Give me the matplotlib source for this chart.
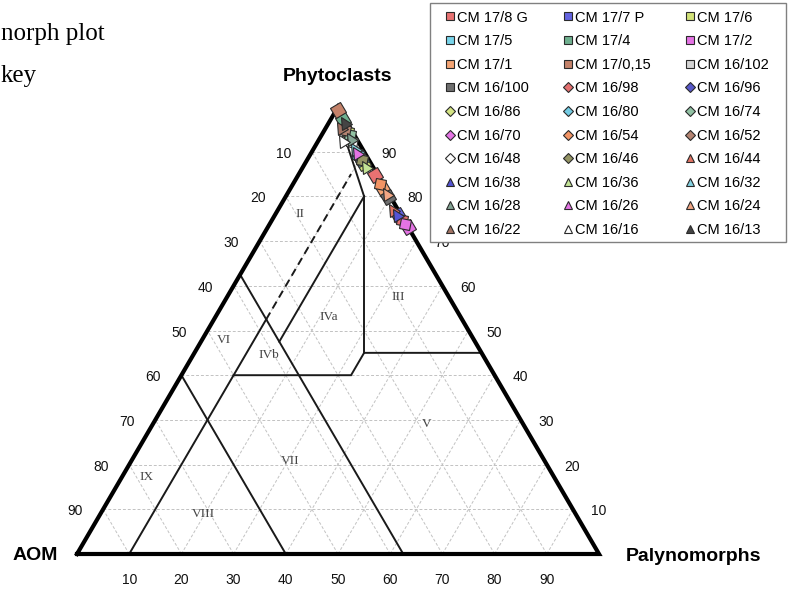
import numpy as np
import matplotlib
matplotlib.use("Agg")
import matplotlib.pyplot as plt
from matplotlib.markers import MarkerStyle
from matplotlib.transforms import Affine2D
from matplotlib.lines import Line2D
from matplotlib.patches import Rectangle
from matplotlib.font_manager import FontProperties

# ---------------- data ----------------
samples = ["CM 17/8 G", "CM 17/7 P", "CM 17/6", "CM 17/5", "CM 17/4", "CM 17/2",
           "CM 17/1", "CM 17/0,15", "CM 16/102", "CM 16/100", "CM 16/98", "CM 16/96",
           "CM 16/86", "CM 16/80", "CM 16/74", "CM 16/70", "CM 16/54", "CM 16/52",
           "CM 16/48", "CM 16/46", "CM 16/44", "CM 16/38", "CM 16/36", "CM 16/32",
           "CM 16/28", "CM 16/26", "CM 16/24", "CM 16/22", "CM 16/16", "CM 16/13"]
phyto = [84.8, 75.9, 87.5, 88.4, 97.0, 73.2, 81.7, 99.3, 88.8, 79.9,
         74.8, 89.5, 94.4, 89.3, 93.8, 73.9, 82.8, 94.9, 92.2, 88.2,
         77.2, 76.1, 86.8, 90.8, 93.1, 90.0, 80.8, 95.5, 92.6, 96.7]
aom = [0.5, 0.6, 1.5, 1.4, 0.5, 0.0, 0.5, 0.4, 1.3, 0.5,
       0.3, 1.6, 0.9, 1.5, 0.8, 0.3, 0.6, 1.2, 1.2, 1.3,
       1.0, 0.8, 1.4, 1.5, 1.1, 1.5, 0.4, 1.8, 2.9, 0.5]
palyno = [14.7, 23.5, 11.0, 10.2, 2.5, 26.8, 17.8, 0.3, 9.9, 19.6,
          24.9, 8.9, 4.7, 9.2, 5.4, 25.8, 16.6, 3.9, 6.6, 10.5,
          21.8, 23.1, 11.8, 7.7, 5.8, 8.5, 18.8, 2.7, 4.5, 2.8]

tick_values = [10, 20, 30, 40, 50, 60, 70, 80, 90]

# field boundaries as (phyto, palyno) vertex lists
fields_solid = [
    [(40, 0), (0, 40)],                 # AOM = 60
    [(62.5, 0), (0, 62.5)],             # AOM = 37.5
    [(0, 10), (52.5, 10)],              # palyno = 10
    [(40, 10), (40, 32.5), (45, 32.5), (45, 55)],
    [(45, 32.5), (80, 15)],             # vertical
    [(47.5, 15), (80, 15)],             # palyno = 15
    [(80, 15), (96, 2.5)],
]
fields_dashed = [[(52.5, 10), (85, 10)]]
field_names = ["II", "III", "IVa", "IVb", "V", "VI", "VII", "VIII", "IX"]
field_pos = [(76.1, 4.7), (57.6, 32.7), (53.1, 21.7), (44.6, 14.5), (29.0, 52.5),
             (47.8, 4.3), (20.8, 30.4), (8.9, 19.7), (17.2, 4.8)]

# ---------------- styles ----------------
markers = ['s'] * 10 + ['D'] * 10 + ['^'] * 10
colors = ["#E87272", "#6464E0", "#D2E278", "#78D4EA", "#6FB08F", "#E472E4",
          "#F4A474", "#C4826A", "#D4D4D4", "#6E6E6E",
          "#E47070", "#5858C8", "#D4E484", "#74CCE4", "#92C2A4", "#E474E4",
          "#F29464", "#B48472", "#FFFFFF", "#949464",
          "#E27464", "#5454D4", "#C4E496", "#84D2E2", "#84A494", "#E474E4",
          "#F2A684", "#A47464", "#FFFFFF", "#444444"]

S3 = np.sqrt(3) / 2


def tern(p, m):
    p = np.asarray(p, float)
    m = np.asarray(m, float)
    return m + p / 2.0, p * S3


fig = plt.figure(figsize=(7.88, 5.92), dpi=100)
# triangle: left vertex (77,554), right (599,554), apex y = 107
ax = fig.add_axes([77 / 788, 38 / 592, 522 / 788, 447 / 592])
ax.set_xlim(0, 100)
ax.set_ylim(0, 100 * S3)
ax.axis('off')

# grid
gkw = dict(color="#c2c2c2", lw=0.7, ls=(0, (3, 2)), zorder=1)
for k in tick_values:
    x, y = tern([k, k], [0, 100 - k]); ax.plot(x, y, **gkw)
    x, y = tern([0, 100 - k], [k, k]); ax.plot(x, y, **gkw)
    x, y = tern([0, 100 - k], [100 - k, 0]); ax.plot(x, y, **gkw)

# field boundaries
for seg in fields_solid:
    p, m = zip(*seg)
    x, y = tern(p, m)
    ax.plot(x, y, color="#1a1a1a", lw=1.4, zorder=2, solid_joinstyle='miter')
for seg in fields_dashed:
    p, m = zip(*seg)
    x, y = tern(p, m)
    ax.plot(x, y, color="#1a1a1a", lw=1.4, ls=(0, (4, 2.5)), zorder=2)

# triangle outline
x, y = tern([0, 0, 100, 0], [0, 100, 0, 0])
ax.plot(x, y, color="black", lw=3.0, zorder=3, solid_joinstyle='miter', clip_on=False)

# field names
for name, (p, m) in zip(field_names, field_pos):
    x, y = tern(p, m)
    ax.text(x, y, name, ha='center', va='center', fontsize=9.5,
            family='Liberation Serif', color='#454545', zorder=2)

# tick labels
tkw = dict(fontsize=10, family='Liberation Sans', color='#111111', va='center', ha='center')
for k in tick_values:
    x, y = tern(100 - k, 0)          # AOM along left edge
    ax.text(x - 5.4, y - 0.4, str(k), **tkw)
    x, y = tern(k, 100 - k)          # Phytoclasts along right edge
    ax.text(x + 4.85, y - 0.4, str(k), **tkw)
    x, y = tern(0, k)                # Palynomorphs along bottom
    ax.text(x, y - 5.0, str(k), **tkw)

# apex titles
lkw = dict(fontsize=14, family='Liberation Sans', weight='bold')
x, y = tern(100, 0)
ax.text(x, 91.6, "Phytoclasts", ha='center', va='baseline', **lkw)
ax.text(-3.6, -0.2, "AOM", ha='right', va='center', **lkw)
ax.text(105.2, -0.4, "Palynomorphs", ha='left', va='center', **lkw)

# data points
rot = Affine2D().rotate_deg(30)
for name, p, m, mk, c in zip(samples, phyto, palyno, markers, colors):
    x, y = tern(p, m)
    ax.plot([x], [y], linestyle='none', marker=MarkerStyle(mk, transform=rot),
            markersize=8.5 if mk != 'D' else 7.5, markerfacecolor=c,
            markeredgecolor='#2a2a2a', markeredgewidth=0.8, zorder=5, clip_on=False)

# top-left text (only its visible part)
fig.text(1 / 788, 1 - 40 / 592, "norph plot", ha='left', va='baseline',
         family='Liberation Serif', fontsize=18)
fig.text(1 / 788, 1 - 82 / 592, "key", ha='left', va='baseline',
         family='Liberation Serif', fontsize=18)

# legend frame and legend
rect = Rectangle((430 / 788, 1 - 242 / 592), (786 - 430) / 788, (242 - 3) / 592,
                 transform=fig.transFigure, facecolor='white', edgecolor='#808080',
                 lw=1.0, zorder=3)
fig.add_artist(rect)

handles = [Line2D([], [], linestyle='none', marker=mk, markersize=6.3 if mk != 'D' else 5.5,
                  markerfacecolor=c, markeredgecolor='#2a2a2a', markeredgewidth=0.8)
           for mk, c in zip(markers, colors)]
order = [r * 3 + c for c in range(3) for r in range(10)]
leg = fig.legend([handles[i] for i in order], [samples[i] for i in order],
                 loc='upper left', bbox_to_anchor=(445.6 / 788, 1 - 10.5 / 592),
                 bbox_transform=fig.transFigure, ncol=3, frameon=False,
                 borderpad=0, borderaxespad=0, handlelength=0.6, handletextpad=0.2,
                 columnspacing=2.36, labelspacing=0.66,
                 prop=FontProperties(family='Liberation Sans', size=10.5))
leg.set_zorder(6)

fig.savefig("out.png", dpi=100)
